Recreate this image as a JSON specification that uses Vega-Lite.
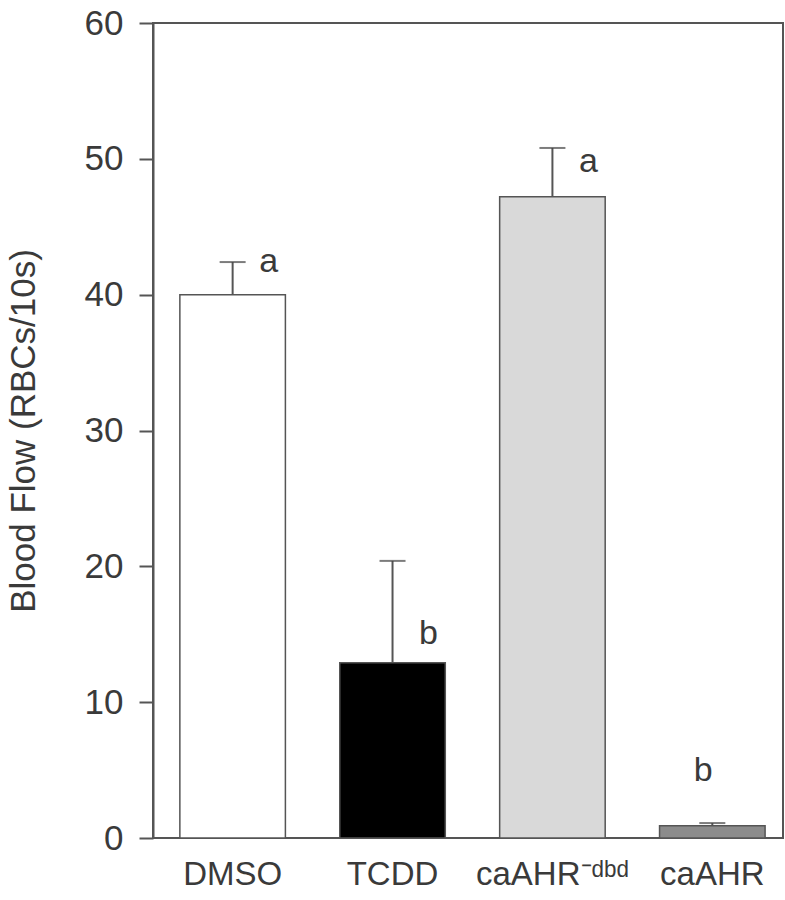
{
  "$schema": "https://vega.github.io/schema/vega-lite/v6.json",
  "width": 630,
  "height": 815,
  "autosize": {"type": "none"},
  "padding": {"left": 153, "top": 23, "right": 2, "bottom": 62},
  "config": {
    "view": {"stroke": "#555555", "strokeWidth": 2},
    "font": "Liberation Sans"
  },
  "data": {
    "values": [
      {"group": "DMSO", "mean": 40, "upper": 42.4, "letter": "a", "letterY": 42.4},
      {"group": "TCDD", "mean": 12.9, "upper": 20.4, "letter": "b", "letterY": 15},
      {"group": "caAHR⁻ᵈᵇᵈ", "mean": 47.2, "upper": 50.8, "letter": "a", "letterY": 49.8},
      {"group": "caAHR", "mean": 0.9, "upper": 1.1, "letter": "b", "letterY": 4.9}
    ]
  },
  "encoding": {
    "x": {
      "field": "group",
      "type": "nominal",
      "sort": null,
      "scale": {"paddingInner": 0.34, "paddingOuter": 0.14, "align": 0.6},
      "axis": {
        "title": null,
        "labelAngle": 0,
        "labelFontSize": 33,
        "labelColor": "#3a3a3a",
        "labelPadding": 20,
        "ticks": false,
        "domain": false
      }
    }
  },
  "layer": [
    {
      "mark": {"type": "bar", "stroke": "#555555", "strokeWidth": 1.5},
      "encoding": {
        "y": {
          "field": "mean",
          "type": "quantitative",
          "scale": {"domain": [0, 60], "nice": false},
          "axis": {
            "title": "Blood Flow  (RBCs/10s)",
            "titleFontSize": 35,
            "titleFontWeight": "normal",
            "titleColor": "#3a3a3a",
            "titlePadding": 43,
            "values": [0, 10, 20, 30, 40, 50, 60],
            "labelFontSize": 35,
            "labelColor": "#3a3a3a",
            "labelPadding": 16,
            "tickSize": 14,
            "tickColor": "#555555",
            "tickWidth": 2,
            "domainColor": "#555555",
            "domainWidth": 2,
            "grid": false
          }
        },
        "color": {
          "field": "group",
          "type": "nominal",
          "sort": null,
          "scale": {"range": ["#ffffff", "#000000", "#d9d9d9", "#8c8c8c"]},
          "legend": null
        }
      }
    },
    {
      "mark": {"type": "rule", "color": "#555555", "strokeWidth": 2},
      "encoding": {
        "y": {"field": "mean", "type": "quantitative"},
        "y2": {"field": "upper"}
      }
    },
    {
      "mark": {"type": "tick", "color": "#444444", "thickness": 2, "size": 26, "orient": "horizontal"},
      "encoding": {
        "y": {"field": "upper", "type": "quantitative"}
      }
    },
    {
      "transform": [{"filter": "datum.group != 'caAHR'"}],
      "mark": {"type": "text", "fontSize": 34, "color": "#3a3a3a", "dx": 36, "baseline": "middle"},
      "encoding": {
        "y": {"field": "letterY", "type": "quantitative"},
        "text": {"field": "letter"}
      }
    },
    {
      "transform": [{"filter": "datum.group == 'caAHR'"}],
      "mark": {"type": "text", "fontSize": 34, "color": "#3a3a3a", "dx": -9, "baseline": "middle"},
      "encoding": {
        "y": {"field": "letterY", "type": "quantitative"},
        "text": {"field": "letter"}
      }
    }
  ]
}
